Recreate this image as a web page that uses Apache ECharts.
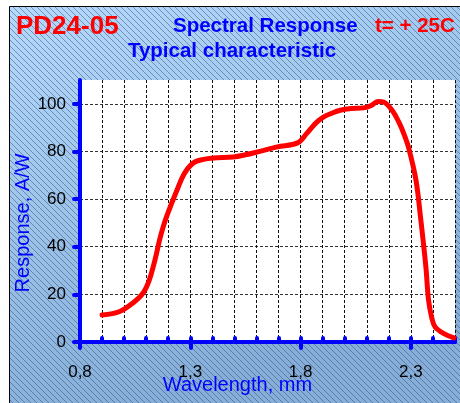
<!DOCTYPE html>
<html>
<head>
<meta charset="utf-8">
<script src="https://cdn.jsdelivr.net/npm/echarts@6/dist/echarts.min.js"></script>
<style>html,body{margin:0;padding:0;background:#fff}#c{width:460px;height:403px}</style>
</head>
<body>
<div id="c"></div>
<script>
// ---- data ----
const wavelength = [0.90,0.98,1.04,1.086,1.114,1.14,1.164,1.19,1.245,1.275,1.314,1.36,1.405,1.495,1.55,1.605,1.695,1.786,1.83,1.87,1.905,1.94,1.98,2.03,2.086,2.12,2.15,2.18,2.22,2.245,2.27,2.29,2.323,2.345,2.368,2.38,2.395,2.41,2.45,2.495];
const response   = [11.3,12.8,16.4,20.6,26,34.5,44,52,65,71,75.2,76.7,77.3,77.7,78.6,79.8,81.9,83.6,87.8,92,94.5,96,97.3,98,98.3,99.3,101,100.6,96.6,92.4,87,81.5,68,51.3,31.5,17.6,10,6.3,3.5,1.7];
const xMajorLabels = ['0,8','1,3','1,8','2,3'];
const yTicks = [0,20,40,60,80,100];
const titleLeft = 'PD24-05';
const titleMid = 'Spectral Response';
const titleRight = 't= + 25C';
const subTitle = 'Typical characteristic';
const xName = 'Wavelength, mm';
const yName = 'Response, A/W';

const FONT = "'Liberation Sans', Arial, sans-serif";
const BLUE = '#0000ff';
const RED = '#ff0000';

// hatch pattern
const pc = document.createElement('canvas');
pc.width = 6; pc.height = 6;
const g = pc.getContext('2d');
g.strokeStyle = 'rgba(45,75,115,0.5)';
g.lineWidth = 1;
g.beginPath();
g.moveTo(-1,-1); g.lineTo(7,7);
g.moveTo(-7,-1); g.lineTo(1,7);
g.moveTo(5,-1); g.lineTo(13,7);
g.stroke();

// layout
const W = 460, H = 403;
const g1 = {left:80, right:5, top:80, bottom:61};
const plotW = W - g1.left - g1.right, plotH = H - g1.top - g1.bottom;
const xMin = 0.8, xMax = 2.5, yMax = 110;
const g2 = {left:80, bottom:61,
  top: g1.top + plotH * (yMax - 100) / yMax,
  right: W - (g1.left + plotW * (2.3 - xMin) / (xMax - xMin))};

const chart = echarts.init(document.getElementById('c'), null, {renderer:'canvas'});
chart.setOption({
  animation:false,
  backgroundColor:'#ffffff',
  grid:[
    Object.assign({show:true, backgroundColor:'#ffffff', borderWidth:0}, g1),
    Object.assign({show:false}, g2)
  ],
  xAxis:[
    {type:'value', gridIndex:0, min:xMin, max:xMax, interval:0.1,
     axisLine:{show:true, lineStyle:{color:BLUE, width:4, cap:'round'}},
     axisTick:{show:true, inside:true, length:4, lineStyle:{color:BLUE, width:4, cap:'round'}},
     axisLabel:{show:false},
     splitLine:{show:true, lineStyle:{color:'#111', width:1, type:[3,2]}}},
    {type:'value', gridIndex:1, min:0, max:1.5, interval:0.5,
     axisLine:{show:false},
     axisTick:{show:true, length:6, lineStyle:{color:BLUE, width:4, cap:'round'}},
     axisLabel:{show:true, margin:22, color:'#000', fontSize:17, fontFamily:FONT,
       formatter:(v)=>xMajorLabels[Math.round(v/0.5)]},
     splitLine:{show:false},
     name:xName, nameLocation:'middle', nameGap:33, nameMoveOverlap:false,
     nameTextStyle:{color:BLUE, fontSize:20, fontFamily:FONT, padding:[0,16,0,0]}}
  ],
  yAxis:[
    {type:'value', gridIndex:0, min:0, max:yMax, interval:20,
     axisLine:{show:true, lineStyle:{color:BLUE, width:4, cap:'round'}},
     axisTick:{show:false}, axisLabel:{show:false},
     splitLine:{show:true, showMaxLine:false, lineStyle:{color:'#333', width:1, type:[3,2]}}},
    {type:'value', gridIndex:1, min:0, max:100, interval:20,
     axisLine:{show:false},
     axisTick:{show:true, length:6, lineStyle:{color:BLUE, width:4, cap:'round'}},
     axisLabel:{show:true, margin:14, color:'#000', fontSize:17, fontFamily:FONT,
       formatter:(v)=>String(yTicks[Math.round(v/20)])},
     splitLine:{show:false},
     name:yName, nameLocation:'middle', nameGap:47, nameRotate:90, nameMoveOverlap:false,
     nameTextStyle:{color:BLUE, fontSize:20, fontFamily:FONT}}
  ],
  series:[{
    type:'line', xAxisIndex:0, yAxisIndex:0,
    data: wavelength.map((x,i)=>[x, response[i]]),
    smooth:0.35, showSymbol:false, clip:true,
    lineStyle:{color:RED, width:5, cap:'round', join:'round'},
    z:5
  }],
  graphic:[
    {type:'rect', z:-100, silent:true, shape:{x:9, y:6, width:W-9, height:H-6},
     style:{fill:new echarts.graphic.LinearGradient(0,0,0.3,1,[{offset:0,color:'#b6dafd'},{offset:1,color:'#86aed8'}])}},
    {type:'rect', z:-99, silent:true, shape:{x:9, y:6, width:W-9, height:H-6},
     style:{fill:{image:pc, repeat:'repeat'}}},
    {type:'line', z:-98, silent:true, shape:{x1:9.5, y1:6.5, x2:W, y2:6.5}, style:{stroke:'#000', lineWidth:1}},
    {type:'line', z:-98, silent:true, shape:{x1:9.5, y1:6.5, x2:9.5, y2:H}, style:{stroke:'#000', lineWidth:1}},
    {type:'text', z:10, style:{text:titleLeft, x:16, y:27, textVerticalAlign:'middle', fill:RED, font:"bold 26px "+FONT}},
    {type:'text', z:10, style:{text:titleMid, x:173, y:26, textVerticalAlign:'middle', fill:BLUE, font:"bold 20.5px "+FONT}},
    {type:'text', z:10, style:{text:titleRight, x:375, y:26, textVerticalAlign:'middle', fill:RED, font:"bold 20.5px "+FONT}},
    {type:'text', z:10, style:{text:subTitle, x:232, y:51, textAlign:'center', textVerticalAlign:'middle', fill:BLUE, font:"bold 20.5px "+FONT}}
  ]
});
</script>
</body>
</html>
